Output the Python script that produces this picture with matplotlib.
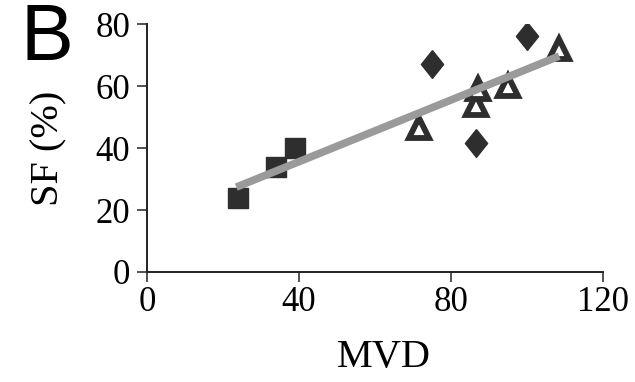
import matplotlib
matplotlib.use("Agg")
import matplotlib.pyplot as plt
import numpy as np

matplotlib.rcParams['font.family'] = 'Liberation Serif'

# values
sq_mvd = [24, 34, 39]
sq_sf = [24, 34, 40]
tri_mvd = [71.5, 86.5, 87, 95, 108.5]
tri_sf = [46.5, 54, 59, 60, 72]
dia_mvd = [75, 86.5, 100]
dia_sf = [67, 41.6, 76]

x_ticks = [0, 40, 80, 120]
y_ticks = [0, 20, 40, 60, 80]

dark = '#2e2e2e'

fig = plt.figure(figsize=(6.35, 3.82), dpi=100)
ax = fig.add_axes([0.2315, 0.288, 0.718, 0.649])

ax.plot(sq_mvd, sq_sf, 's', ms=15, color=dark, zorder=2)
ax.plot(tri_mvd, tri_sf, '^', ms=15, mfc='white', mec=dark, mew=4.2, zorder=2)
diamond = [(0, 1), (0.8, 0), (0, -1), (-0.8, 0), (0, 1)]
ax.plot(dia_mvd, dia_sf, marker=diamond, ls='none', ms=20, color=dark, zorder=2)

# regression line through all points
all_x = np.array(sq_mvd + tri_mvd + dia_mvd)
all_y = np.array(sq_sf + tri_sf + dia_sf)
k, b = np.polyfit(all_x, all_y, 1)
fx = np.array([all_x.min() - 0.5, all_x.max()])
ax.plot(fx, k * fx + b, color='#9a9a9a', lw=5.5, solid_capstyle='butt', zorder=3)

ax.set_xlim(0, 120)
ax.set_ylim(0, 80)
ax.set_xticks(x_ticks)
ax.set_yticks(y_ticks)
ax.tick_params(labelsize=25, length=7, width=1.1, direction='out', color='#222222')
ax.tick_params(axis='y', pad=5)
ax.tick_params(axis='x', pad=3)
for s in ['top', 'right']:
    ax.spines[s].set_visible(False)
for s in ['left', 'bottom']:
    ax.spines[s].set_linewidth(1.4)
    ax.spines[s].set_color('#222222')

ax.set_xlabel('MVD', fontsize=29, labelpad=14)
ax.xaxis.set_label_coords(0.52, -0.27)
ax.set_ylabel('SF (%)', fontsize=29, labelpad=20)

fig.text(0.033, 0.995, 'B', fontsize=57, family='Liberation Sans', va='top', ha='left')

fig.savefig('out.png', dpi=100)
